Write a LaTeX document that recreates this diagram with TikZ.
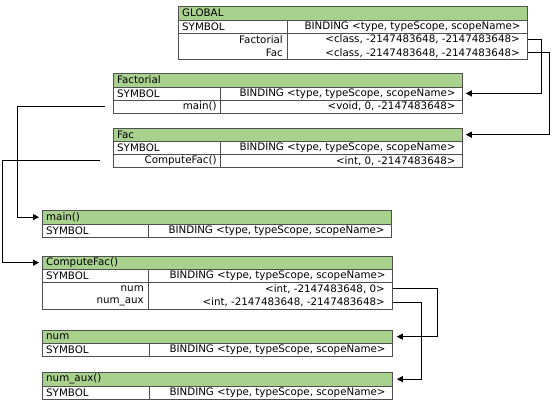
\documentclass[tikz,border=0pt]{standalone}
\usepackage{fontspec}
\setmainfont{DejaVu Sans}
\usetikzlibrary{arrows.meta}
\definecolor{hdr}{HTML}{A9D18E}
\definecolor{bord}{HTML}{505050}
\tikzset{
  hdrcell/.style={draw=bord, fill=hdr, line width=0.8pt, inner sep=0pt, anchor=north west},
  cell/.style={draw=bord, fill=white, line width=0.8pt, inner sep=0pt, anchor=north west},
  txt/.style={font=\fontsize{10.3}{12}\selectfont, inner sep=0pt, text=black},
  conn/.style={draw=black, line width=1pt, -{Triangle[length=6pt,width=6pt]}},
}
% #1 prefix, #2 left, #3 divider, #4 right, #5 top, #6 title
\newcommand\symhead[6]{%
  \node[hdrcell, minimum width={#4pt-#2pt}, minimum height=13.5pt] (#1t) at (#2,#5) {};
  \node[txt, anchor=west] (#1tt) at ([xshift=4pt]#1t.west) {#6};
  \node[cell, minimum width={#3pt-#2pt}, minimum height=13pt] (#1s) at (#2,#5+13.5) {};
  \node[cell, minimum width={#4pt-#3pt}, minimum height=13pt] (#1b) at (#3,#5+13.5) {};
  \node[txt, anchor=west] (#1st) at ([xshift=4pt]#1s.west) {SYMBOL};
  \node[txt, anchor=east] (#1bt) at ([xshift=-7pt]#1b.east) {BINDING <type, typeScope, scopeName>};
}
\begin{document}
\begin{tikzpicture}[x=1pt,y=-1pt]
\useasboundingbox (0,0) rectangle (558,410);

% GLOBAL
\symhead{G}{178}{287}{527}{6}{GLOBAL}
\node[cell, minimum width=109pt, minimum height=26.5pt] (Gk) at (178,32.5) {};
\node[cell, minimum width=240pt, minimum height=26.5pt] (Gv) at (287,32.5) {};
\node[txt, anchor=east] (Gk1) at (283,39.3) {Factorial};
\node[txt, anchor=east] (Gk2) at (283,52.7) {Fac};
\node[txt, anchor=east] (Gv1) at (520,39.3) {<class, -2147483648, -2147483648>};
\node[txt, anchor=east] (Gv2) at (520,52.7) {<class, -2147483648, -2147483648>};

% Factorial
\symhead{F}{113}{220}{462}{73}{Factorial}
\node[cell, minimum width=107pt, minimum height=13pt] (Fk) at (113,99.5) {};
\node[cell, minimum width=242pt, minimum height=13pt] (Fv) at (220,99.5) {};
\node[txt, anchor=east] (Fk1) at ([xshift=-4pt]Fk.east) {main()};
\node[txt, anchor=east] (Fv1) at ([xshift=-7pt]Fv.east) {<void, 0, -2147483648>};

% Fac
\symhead{C}{113}{220}{462}{127.5}{Fac}
\node[cell, minimum width=107pt, minimum height=13pt] (Ck) at (113,154) {};
\node[cell, minimum width=242pt, minimum height=13pt] (Cv) at (220,154) {};
\node[txt, anchor=east] (Ck1) at ([xshift=-4pt]Ck.east) {ComputeFac()};
\node[txt, anchor=east] (Cv1) at ([xshift=-7pt]Cv.east) {<int, 0, -2147483648>};

% main()
\symhead{M}{42}{148}{391}{210}{main()}

% ComputeFac()
\symhead{P}{42}{148}{392}{255.5}{ComputeFac()}
\node[cell, minimum width=106pt, minimum height=26.5pt] (Pk) at (42,282) {};
\node[cell, minimum width=244pt, minimum height=26.5pt] (Pv) at (148,282) {};
\node[txt, anchor=east] (Pk1) at (144,288.8) {num};
\node[txt, anchor=east] (Pk2) at (144,302.2) {num\_aux};
\node[txt, anchor=east] (Pv1) at (385,288.8) {<int, -2147483648, 0>};
\node[txt, anchor=east] (Pv2) at (385,302.2) {<int, -2147483648, -2147483648>};

% num
\symhead{N}{42}{149}{392}{329.5}{num}

% num_aux()
\symhead{A}{42}{149}{392}{372}{num\_aux()}

% connectors
\coordinate (c1) at (541,0);
\coordinate (c2) at (549,0);
\coordinate (c3) at (17,0);
\coordinate (c4) at (2,0);
\coordinate (c5) at (437,0);
\coordinate (c6) at (421,0);
\draw[conn] (Gv.east |- Gv1) -- (c1 |- Gv1) -- (c1 |- Fb) -- ([xshift=3pt]Fb.east);
\draw[conn] (Gv.east |- Gv2) -- (c2 |- Gv2) -- (c2 |- Ct) -- ([xshift=3pt]Ct.east);
\draw[conn] ([xshift=-8pt]Fk.west) -- (c3 |- Fk) -- (c3 |- Mt) -- ([xshift=-3pt]Mt.west);
\draw[conn] ([xshift=-13pt]Ck.west) -- (c4 |- Ck) -- (c4 |- Pt) -- ([xshift=-3pt]Pt.west);
\draw[conn] (Pv.east |- Pv1) -- (c5 |- Pv1) -- (c5 |- Nt) -- ([xshift=4pt]Nt.east);
\draw[conn] (Pv.east |- Pv2) -- (c6 |- Pv2) -- (c6 |- At) -- ([xshift=4pt]At.east);
\end{tikzpicture}
\end{document}
